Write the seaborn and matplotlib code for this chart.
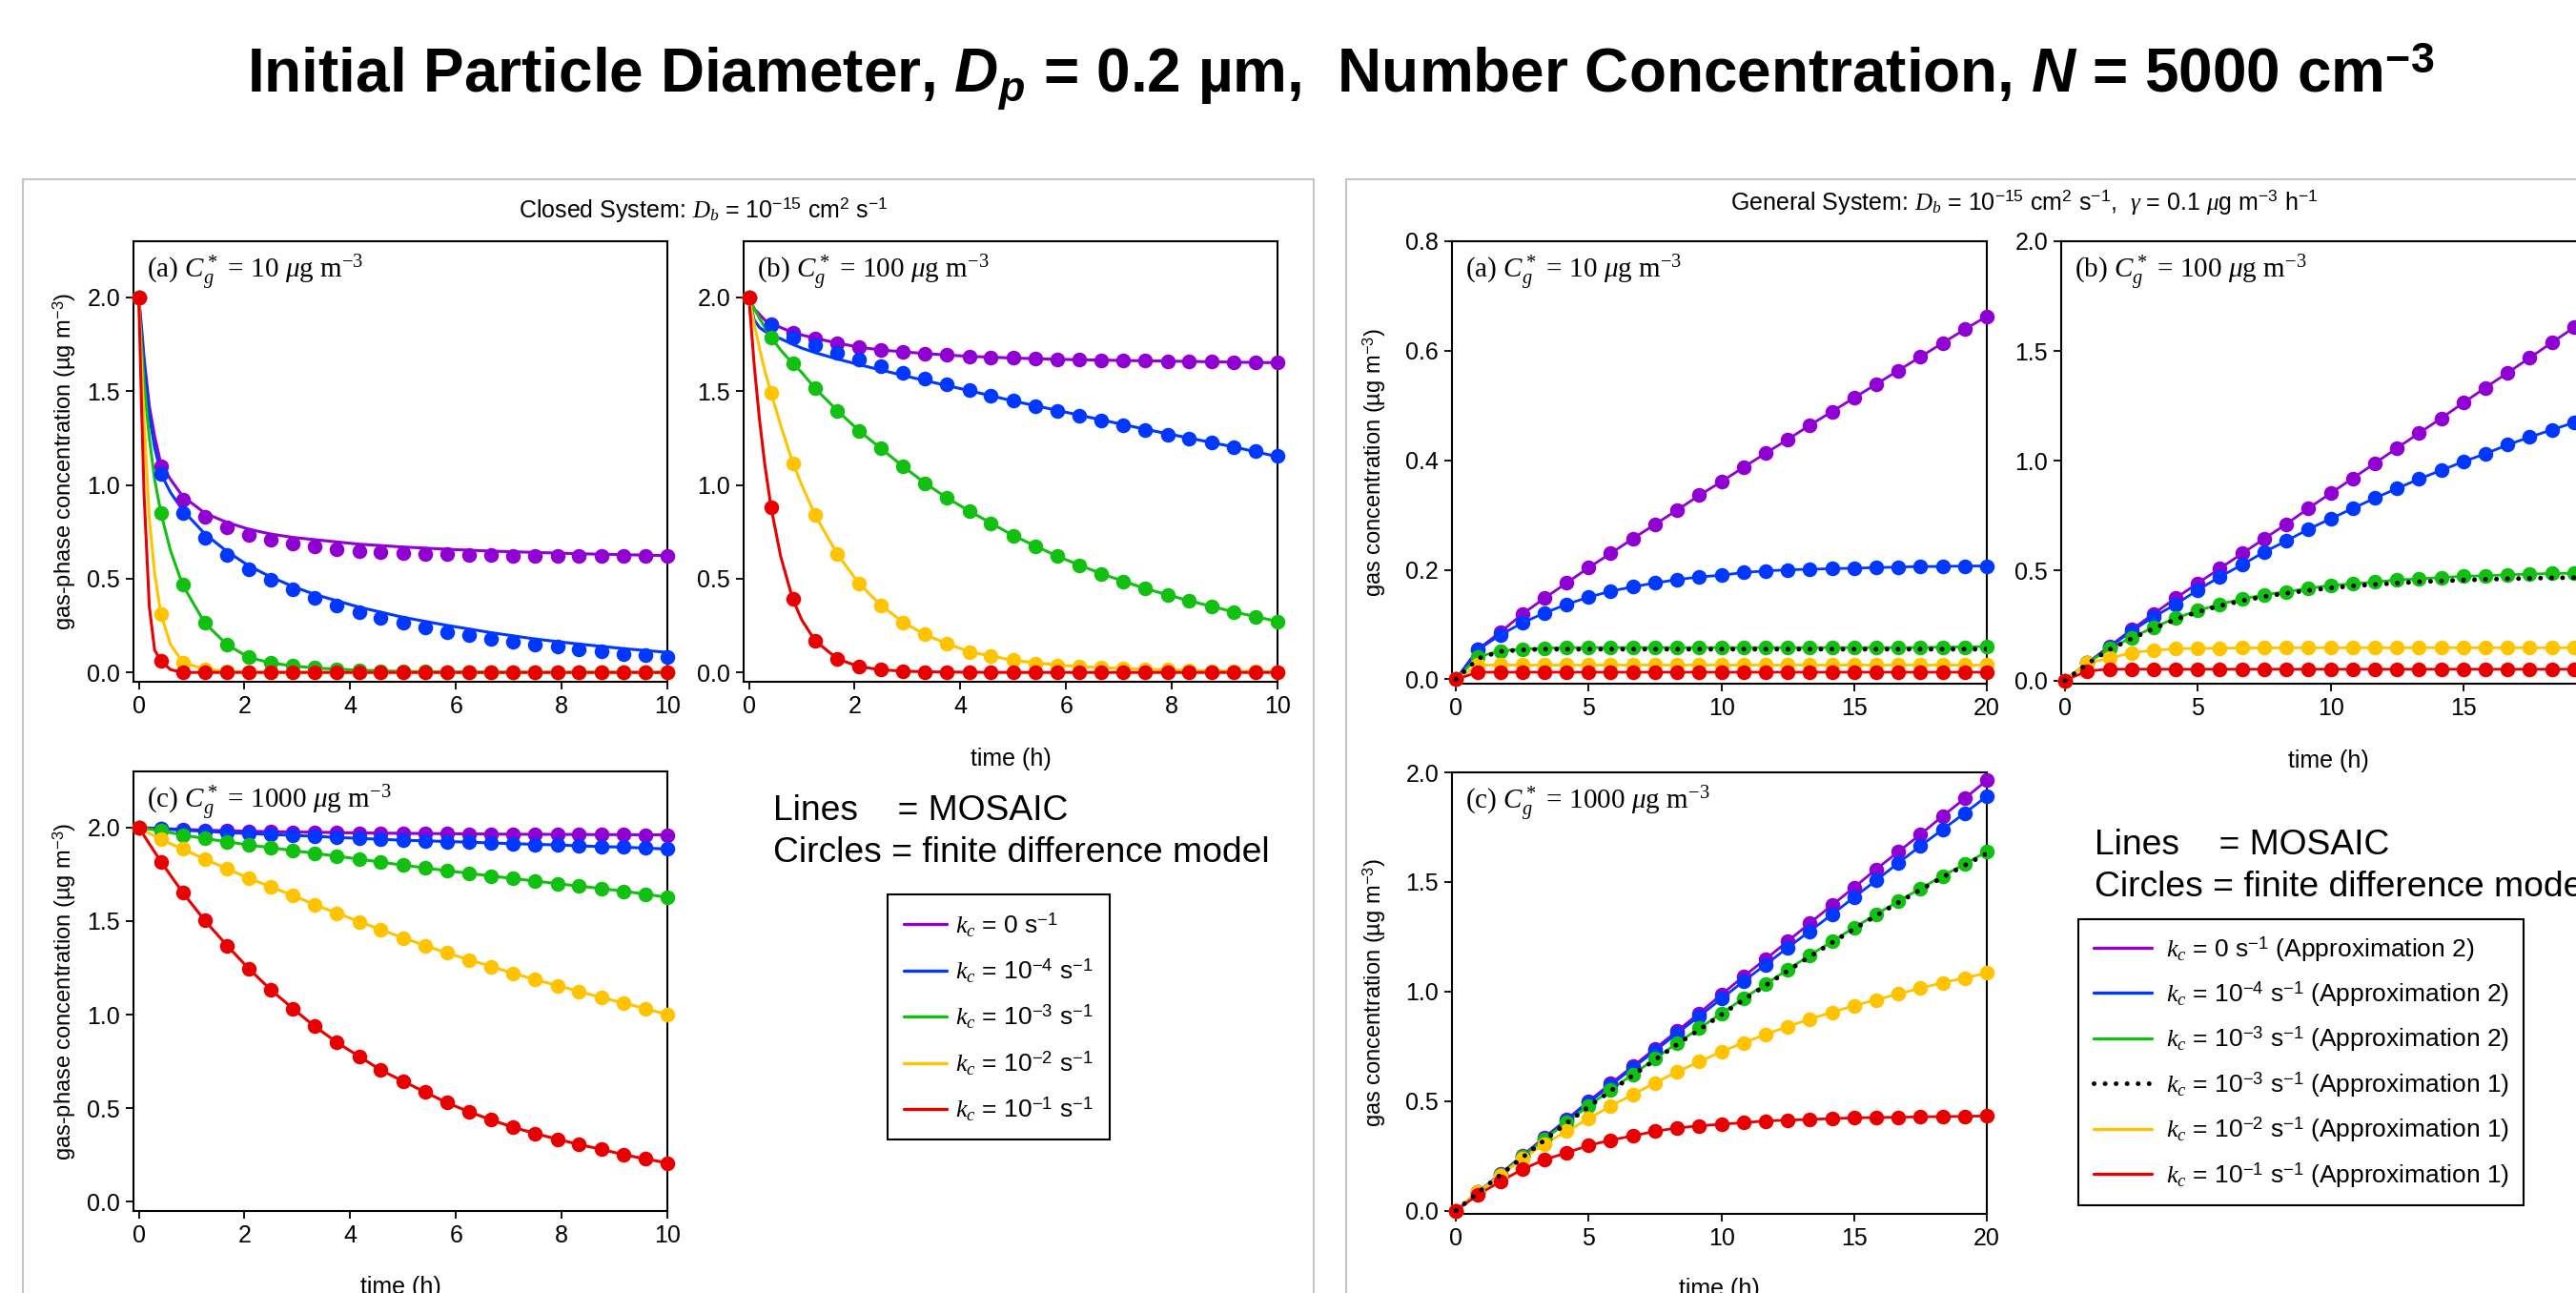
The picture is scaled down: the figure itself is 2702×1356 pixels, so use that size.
import numpy as np
import pandas as pd
import matplotlib
matplotlib.use('Agg')
import matplotlib.pyplot as plt
import seaborn as sns
from matplotlib.patches import Rectangle
from matplotlib.lines import Line2D

sns.set_theme(style='ticks')
plt.rcParams['font.family'] = ['Liberation Sans', 'DejaVu Sans']
plt.rcParams['mathtext.fontset'] = 'custom'
plt.rcParams['mathtext.rm'] = 'Liberation Serif'
plt.rcParams['mathtext.it'] = 'Liberation Serif:italic'
plt.rcParams['mathtext.bf'] = 'Liberation Sans:bold:italic'
for k in ['text.color', 'axes.labelcolor', 'xtick.color', 'ytick.color', 'axes.edgecolor']:
    plt.rcParams[k] = 'black'

W, H = 2702, 1356

# ---------------- data ----------------
series = ['k0', 'k4', 'k3', 'k2', 'k1']
colors = {'k0': '#9100d2', 'k4': '#0038ff', 'k3': '#12c012', 'k2': '#ffc300', 'k1': '#e80000'}

# circle (finite difference) times
t_closed = [0, 0.42, 0.83, 1.25, 1.67, 2.08, 2.5, 2.92, 3.33, 3.75, 4.17, 4.58, 5.0,
            5.42, 5.83, 6.25, 6.67, 7.08, 7.5, 7.92, 8.33, 8.75, 9.17, 9.58, 10.0]
t_gen = [0, 0.83, 1.67, 2.5, 3.33, 4.17, 5.0, 5.83, 6.67, 7.5, 8.33, 9.17, 10.0,
         10.83, 11.67, 12.5, 13.33, 14.17, 15.0, 15.83, 16.67, 17.5, 18.33, 19.17, 20.0]

# Closed system (a) C*=10 : circles
ca_k0 = [2.0, 1.098, 0.920, 0.829, 0.776, 0.735, 0.708, 0.688, 0.674, 0.659, 0.649, 0.642, 0.637,
         0.633, 0.630, 0.627, 0.625, 0.623, 0.621, 0.620, 0.620, 0.620, 0.620, 0.620, 0.620]
ca_k4 = [2.0, 1.061, 0.849, 0.718, 0.628, 0.552, 0.496, 0.445, 0.399, 0.357, 0.323, 0.292, 0.263,
         0.238, 0.217, 0.197, 0.178, 0.163, 0.149, 0.136, 0.122, 0.112, 0.100, 0.092, 0.081]
ca_k3 = [2.0, 0.849, 0.467, 0.263, 0.148, 0.080, 0.051, 0.034, 0.024, 0.017, 0.012, 0.008, 0.005,
         0.004, 0.003, 0.002, 0.001, 0.001, 0.0, 0.0, 0.0, 0.0, 0.0, 0.0, 0.0]
ca_k2 = [2.0, 0.311, 0.054, 0.017, 0.005, 0.002, 0.001, 0.0, 0.0, 0.0, 0.0, 0.0, 0.0,
         0.0, 0.0, 0.0, 0.0, 0.0, 0.0, 0.0, 0.0, 0.0, 0.0, 0.0, 0.0]
ca_k1 = [2.0, 0.063, 0.0, 0.0, 0.0, 0.0, 0.0, 0.0, 0.0, 0.0, 0.0, 0.0, 0.0,
         0.0, 0.0, 0.0, 0.0, 0.0, 0.0, 0.0, 0.0, 0.0, 0.0, 0.0, 0.0]
# Closed system (a) : MOSAIC lines
tl_a = [0, 0.05, 0.1, 0.2, 0.3, 0.42, 0.6, 0.83, 1.25, 1.67, 2.08, 2.5, 2.92, 3.33, 3.75, 4.17,
        5.0, 5.83, 6.67, 7.5, 8.33, 9.17, 10.0]
la_k0 = [2.0, 1.85, 1.68, 1.42, 1.26, 1.11, 1.03, 0.94, 0.85, 0.80, 0.764, 0.738, 0.720, 0.708,
         0.696, 0.684, 0.669, 0.657, 0.647, 0.640, 0.633, 0.628, 0.623]
la_k4 = [2.0, 1.82, 1.65, 1.37, 1.20, 1.06, 0.96, 0.866, 0.739, 0.645, 0.569, 0.509, 0.458, 0.416,
         0.382, 0.348, 0.294, 0.251, 0.212, 0.178, 0.151, 0.127, 0.107]
la_k3 = [2.0, 1.75, 1.55, 1.25, 1.03, 0.85, 0.65, 0.467, 0.263, 0.148, 0.080, 0.051, 0.034, 0.024,
         0.017, 0.012, 0.005, 0.003, 0.001, 0.0, 0.0, 0.0, 0.0]
la_k2 = [2.0, 1.65, 1.35, 0.82, 0.53, 0.31, 0.15, 0.054, 0.017, 0.005, 0.002, 0.001, 0.0, 0.0,
         0.0, 0.0, 0.0, 0.0, 0.0, 0.0, 0.0, 0.0, 0.0]
la_k1 = [2.0, 1.45, 0.95, 0.35, 0.12, 0.06, 0.015, 0.0, 0.0, 0.0, 0.0, 0.0, 0.0, 0.0,
         0.0, 0.0, 0.0, 0.0, 0.0, 0.0, 0.0, 0.0, 0.0]

# Closed system (b) C*=100 : circles
cb_k0 = [2.0, 1.859, 1.813, 1.783, 1.757, 1.735, 1.720, 1.710, 1.701, 1.693, 1.686, 1.681, 1.677,
         1.672, 1.670, 1.667, 1.666, 1.664, 1.662, 1.660, 1.659, 1.657, 1.655, 1.654, 1.652]
cb_k4 = [2.0, 1.851, 1.788, 1.744, 1.703, 1.667, 1.633, 1.599, 1.567, 1.537, 1.506, 1.477, 1.448,
         1.421, 1.396, 1.370, 1.345, 1.319, 1.294, 1.268, 1.248, 1.226, 1.200, 1.180, 1.154]
cb_k3 = [2.0, 1.788, 1.647, 1.516, 1.397, 1.290, 1.194, 1.098, 1.010, 0.930, 0.861, 0.793, 0.730,
         0.674, 0.620, 0.572, 0.526, 0.484, 0.447, 0.413, 0.382, 0.351, 0.323, 0.297, 0.272]
cb_k2 = [2.0, 1.489, 1.117, 0.840, 0.632, 0.475, 0.357, 0.267, 0.202, 0.153, 0.110, 0.085, 0.065,
         0.049, 0.039, 0.031, 0.025, 0.020, 0.017, 0.014, 0.010, 0.008, 0.007, 0.005, 0.003]
cb_k1 = [2.0, 0.879, 0.390, 0.170, 0.073, 0.031, 0.014, 0.007, 0.003, 0.002, 0.001, 0.0, 0.0,
         0.0, 0.0, 0.0, 0.0, 0.0, 0.0, 0.0, 0.0, 0.0, 0.0, 0.0, 0.0]
# Closed system (b) : MOSAIC lines
tl_b = [0, 0.1, 0.2, 0.3, 0.42, 0.6, 0.83, 1.0, 1.25, 1.67, 2.08, 2.5, 2.92, 3.33, 3.75, 4.17,
        5.0, 5.83, 6.67, 7.5, 8.33, 9.17, 10.0]
lb_k0 = [2.0, 1.94, 1.91, 1.88, 1.86, 1.84, 1.813, 1.80, 1.783, 1.757, 1.735, 1.720, 1.710, 1.701,
         1.693, 1.686, 1.677, 1.670, 1.666, 1.662, 1.659, 1.655, 1.652]
lb_k4 = [2.0, 1.88, 1.84, 1.82, 1.80, 1.78, 1.75, 1.73, 1.706, 1.672, 1.642, 1.613, 1.584, 1.557,
         1.530, 1.503, 1.448, 1.398, 1.347, 1.297, 1.250, 1.203, 1.151]
lb_k3 = [2.0, 1.94, 1.89, 1.84, 1.788, 1.72, 1.647, 1.60, 1.516, 1.397, 1.290, 1.194, 1.098, 1.010,
         0.930, 0.861, 0.730, 0.620, 0.526, 0.447, 0.382, 0.323, 0.272]
lb_k2 = [2.0, 1.86, 1.73, 1.61, 1.489, 1.32, 1.117, 1.00, 0.840, 0.632, 0.475, 0.357, 0.267, 0.202,
         0.153, 0.110, 0.065, 0.039, 0.025, 0.017, 0.010, 0.007, 0.003]
lb_k1 = [2.0, 1.64, 1.35, 1.11, 0.879, 0.62, 0.390, 0.28, 0.170, 0.073, 0.031, 0.014, 0.007, 0.003,
         0.002, 0.001, 0.0, 0.0, 0.0, 0.0, 0.0, 0.0, 0.0]

# Closed system (c) C*=1000 : circles (lines follow the circles)
cc_k0 = [2.0, 1.995, 1.990, 1.986, 1.983, 1.980, 1.978, 1.976, 1.975, 1.973, 1.971, 1.970, 1.969,
         1.968, 1.967, 1.966, 1.965, 1.964, 1.964, 1.963, 1.963, 1.962, 1.962, 1.961, 1.961]
cc_k4 = [2.0, 1.993, 1.986, 1.980, 1.973, 1.968, 1.963, 1.958, 1.953, 1.947, 1.942, 1.937, 1.932,
         1.929, 1.925, 1.922, 1.917, 1.914, 1.910, 1.907, 1.902, 1.898, 1.895, 1.890, 1.885]
cc_k3 = [2.0, 1.983, 1.960, 1.941, 1.924, 1.907, 1.892, 1.877, 1.862, 1.847, 1.831, 1.815, 1.799,
         1.784, 1.769, 1.755, 1.741, 1.727, 1.714, 1.700, 1.687, 1.674, 1.660, 1.644, 1.627]
cc_k2 = [2.0, 1.936, 1.885, 1.831, 1.780, 1.729, 1.683, 1.636, 1.588, 1.542, 1.497, 1.454, 1.410,
         1.369, 1.329, 1.293, 1.257, 1.221, 1.187, 1.155, 1.124, 1.091, 1.062, 1.032, 1.000]
cc_k1 = [2.0, 1.817, 1.653, 1.503, 1.369, 1.246, 1.132, 1.031, 0.937, 0.851, 0.776, 0.703, 0.644,
         0.585, 0.529, 0.480, 0.437, 0.398, 0.364, 0.334, 0.305, 0.280, 0.251, 0.229, 0.207]

# General system (a) C*=10
ga_k0 = [0, 0.055, 0.086, 0.119, 0.148, 0.176, 0.204, 0.230, 0.257, 0.283, 0.309, 0.336, 0.361,
         0.387, 0.413, 0.438, 0.464, 0.489, 0.514, 0.539, 0.564, 0.589, 0.614, 0.639, 0.663]
ga_k4 = [0, 0.054, 0.081, 0.103, 0.121, 0.137, 0.150, 0.161, 0.169, 0.176, 0.182, 0.187, 0.190,
         0.195, 0.198, 0.200, 0.201, 0.202, 0.203, 0.204, 0.205, 0.206, 0.206, 0.207, 0.207]
ga_k3 = [0, 0.041, 0.052, 0.055, 0.057, 0.058, 0.058, 0.058, 0.058, 0.058, 0.058, 0.058, 0.058,
         0.058, 0.058, 0.058, 0.058, 0.058, 0.058, 0.058, 0.058, 0.058, 0.059, 0.059, 0.060]
ga_k3a1 = [0, 0.038, 0.051, 0.054, 0.055, 0.055, 0.055, 0.055, 0.055, 0.055, 0.055, 0.055, 0.055,
           0.055, 0.055, 0.055, 0.055, 0.055, 0.055, 0.055, 0.055, 0.055, 0.055, 0.055, 0.055]
ga_k2 = [0, 0.026, 0.026, 0.026, 0.026, 0.026, 0.026, 0.026, 0.026, 0.026, 0.026, 0.026, 0.026,
         0.026, 0.026, 0.026, 0.026, 0.026, 0.026, 0.026, 0.026, 0.026, 0.026, 0.026, 0.026]
ga_k1 = [0, 0.013, 0.013, 0.013, 0.013, 0.013, 0.013, 0.013, 0.013, 0.013, 0.013, 0.013, 0.013,
         0.013, 0.013, 0.013, 0.013, 0.013, 0.013, 0.013, 0.013, 0.013, 0.013, 0.013, 0.013]

# General system (b) C*=100
gb_k0 = [0, 0.079, 0.155, 0.231, 0.303, 0.375, 0.443, 0.510, 0.578, 0.645, 0.712, 0.784, 0.852,
         0.920, 0.989, 1.058, 1.126, 1.194, 1.264, 1.333, 1.401, 1.469, 1.538, 1.607, 1.675]
gb_k4 = [0, 0.079, 0.152, 0.224, 0.289, 0.347, 0.412, 0.472, 0.527, 0.585, 0.635, 0.689, 0.736,
         0.783, 0.830, 0.874, 0.917, 0.957, 0.996, 1.032, 1.073, 1.108, 1.141, 1.174, 1.205]
gb_k3 = [0, 0.079, 0.144, 0.195, 0.241, 0.284, 0.318, 0.347, 0.371, 0.390, 0.404, 0.419, 0.433,
         0.440, 0.448, 0.458, 0.462, 0.469, 0.474, 0.477, 0.481, 0.484, 0.487, 0.488, 0.490]
gb_k3a1 = [0, 0.075, 0.140, 0.190, 0.236, 0.278, 0.312, 0.340, 0.363, 0.382, 0.397, 0.410, 0.421,
           0.430, 0.437, 0.443, 0.449, 0.453, 0.457, 0.460, 0.463, 0.465, 0.467, 0.468, 0.469]
gb_k2 = [0, 0.079, 0.101, 0.126, 0.137, 0.144, 0.146, 0.147, 0.148, 0.148, 0.149, 0.149, 0.149,
         0.149, 0.149, 0.149, 0.149, 0.149, 0.149, 0.149, 0.149, 0.149, 0.149, 0.149, 0.149]
gb_k1 = [0, 0.043, 0.051, 0.051, 0.051, 0.051, 0.051, 0.051, 0.051, 0.051, 0.051, 0.051, 0.051,
         0.051, 0.051, 0.051, 0.051, 0.051, 0.051, 0.051, 0.051, 0.051, 0.051, 0.051, 0.051]

# General system (c) C*=1000
gc_k0 = [0, 0.084, 0.167, 0.251, 0.333, 0.416, 0.499, 0.580, 0.659, 0.739, 0.819, 0.901, 0.986,
         1.068, 1.148, 1.229, 1.312, 1.394, 1.475, 1.558, 1.638, 1.717, 1.800, 1.881, 1.964]
gc_k4 = [0, 0.083, 0.164, 0.246, 0.329, 0.413, 0.493, 0.572, 0.652, 0.729, 0.809, 0.887, 0.967,
         1.046, 1.123, 1.200, 1.275, 1.352, 1.430, 1.507, 1.587, 1.664, 1.739, 1.814, 1.891]
gc_k3 = [0, 0.083, 0.164, 0.245, 0.325, 0.403, 0.478, 0.551, 0.622, 0.693, 0.764, 0.832, 0.900,
         0.968, 1.034, 1.100, 1.165, 1.229, 1.291, 1.352, 1.412, 1.470, 1.527, 1.582, 1.638]
gc_k3a1 = [0, 0.082, 0.162, 0.242, 0.321, 0.399, 0.474, 0.546, 0.617, 0.688, 0.758, 0.826, 0.894,
           0.962, 1.028, 1.094, 1.159, 1.223, 1.285, 1.346, 1.406, 1.464, 1.521, 1.576, 1.630]
gc_k2 = [0, 0.083, 0.161, 0.236, 0.303, 0.362, 0.420, 0.477, 0.530, 0.583, 0.633, 0.680, 0.725,
         0.766, 0.804, 0.840, 0.874, 0.905, 0.935, 0.962, 0.989, 1.015, 1.040, 1.062, 1.084]
gc_k1 = [0, 0.072, 0.133, 0.188, 0.232, 0.264, 0.297, 0.322, 0.341, 0.362, 0.377, 0.387, 0.394,
         0.401, 0.409, 0.413, 0.416, 0.420, 0.423, 0.425, 0.426, 0.428, 0.429, 0.430, 0.432]

legend_closed = [r'$k_c$ = 0 s$^{\mathregular{-1}}$',
                 r'$k_c$ = 10$^{\mathregular{-4}}$ s$^{\mathregular{-1}}$',
                 r'$k_c$ = 10$^{\mathregular{-3}}$ s$^{\mathregular{-1}}$',
                 r'$k_c$ = 10$^{\mathregular{-2}}$ s$^{\mathregular{-1}}$',
                 r'$k_c$ = 10$^{\mathregular{-1}}$ s$^{\mathregular{-1}}$']
legend_gen = [r'$k_c$ = 0 s$^{\mathregular{-1}}$ (Approximation 2)',
              r'$k_c$ = 10$^{\mathregular{-4}}$ s$^{\mathregular{-1}}$ (Approximation 2)',
              r'$k_c$ = 10$^{\mathregular{-3}}$ s$^{\mathregular{-1}}$ (Approximation 2)',
              r'$k_c$ = 10$^{\mathregular{-3}}$ s$^{\mathregular{-1}}$ (Approximation 1)',
              r'$k_c$ = 10$^{\mathregular{-2}}$ s$^{\mathregular{-1}}$ (Approximation 1)',
              r'$k_c$ = 10$^{\mathregular{-1}}$ s$^{\mathregular{-1}}$ (Approximation 1)']

# ---------------- figure ----------------
fig = plt.figure(figsize=(W / 100, H / 100), dpi=100)
fig.patch.set_facecolor('white')


def fx(px):
    return px / W


def fy(py):
    return 1 - py / H


def make_ax(l, t, r, b):
    return fig.add_axes([fx(l), fy(b), (r - l) / W, (b - t) / H])


def long_df(t, vals):
    rows = []
    for s, v in zip(series, vals):
        for ti, vi in zip(t, v):
            rows.append((s, ti, vi))
    return pd.DataFrame(rows, columns=['kc', 't', 'c'])


DOT = (0, (0.01, 2.3))


def draw(ax, t_circ, circ_vals, t_line, line_vals, lw, black=None):
    dl = long_df(t_line, line_vals)
    sns.lineplot(data=dl, x='t', y='c', hue='kc', palette=colors, hue_order=series,
                 ax=ax, lw=lw, legend=False, errorbar=None, sort=False, zorder=2)
    dc = long_df(t_circ, circ_vals)
    for s in series:
        sub = dc[dc.kc == s]
        sns.scatterplot(data=sub, x='t', y='c', color=colors[s], s=125, linewidth=0,
                        ax=ax, legend=False, zorder=3, clip_on=False)
    if black is not None:
        sns.lineplot(x=t_circ, y=black, ax=ax, color='black', lw=3.6, errorbar=None,
                     dashes=False, zorder=4, legend=False)
        ax.lines[-1].set_linestyle(DOT)
        ax.lines[-1].set_dash_capstyle('round')
    ax.set_xlabel('')
    ax.set_ylabel('')


def style(ax, xlim, ylim, xt, yt, title):
    ax.set_xlim(*xlim)
    ax.set_ylim(*ylim)
    ax.set_xticks(xt)
    ax.set_yticks(yt)
    ax.set_yticklabels([f'{v:.1f}' for v in yt])
    ax.set_xticklabels([f'{v:g}' for v in xt])
    ax.tick_params(direction='out', length=6, width=1.3, labelsize=18, pad=4,
                   color='black', labelcolor='black')
    for sp in ax.spines.values():
        sp.set_visible(True)
        sp.set_color('black')
        sp.set_linewidth(1.5)
    ax.text(0.025, 0.915, title, transform=ax.transAxes, fontsize=21,
            family='Liberation Serif', va='baseline', ha='left', color='black')


# closed system
axA = make_ax(140, 253, 700, 715)
draw(axA, t_closed, [ca_k0, ca_k4, ca_k3, ca_k2, ca_k1], tl_a, [la_k0, la_k4, la_k3, la_k2, la_k1], 2.2)
style(axA, (-0.1, 10), (-0.05, 2.3), [0, 2, 4, 6, 8, 10], [0.0, 0.5, 1.0, 1.5, 2.0],
      r'(a) $C_g^*$ = 10 $\mu$g m$^{-3}$')

axB = make_ax(780, 253, 1340, 715)
draw(axB, t_closed, [cb_k0, cb_k4, cb_k3, cb_k2, cb_k1], tl_b, [lb_k0, lb_k4, lb_k3, lb_k2, lb_k1], 2.2)
style(axB, (-0.1, 10), (-0.05, 2.3), [0, 2, 4, 6, 8, 10], [0.0, 0.5, 1.0, 1.5, 2.0],
      r'(b) $C_g^*$ = 100 $\mu$g m$^{-3}$')

axC = make_ax(140, 809, 700, 1270)
cc = [cc_k0, cc_k4, cc_k3, cc_k2, cc_k1]
draw(axC, t_closed, cc, t_closed, cc, 2.2)
style(axC, (-0.1, 10), (-0.05, 2.3), [0, 2, 4, 6, 8, 10], [0.0, 0.5, 1.0, 1.5, 2.0],
      r'(c) $C_g^*$ = 1000 $\mu$g m$^{-3}$')

# general system
gA = make_ax(1523, 253, 2084, 717)
ga = [ga_k0, ga_k4, ga_k3, ga_k2, ga_k1]
draw(gA, t_gen, ga, t_gen, ga, 2.0, black=ga_k3a1)
style(gA, (-0.15, 20), (-0.008, 0.8), [0, 5, 10, 15, 20], [0.0, 0.2, 0.4, 0.6, 0.8],
      r'(a) $C_g^*$ = 10 $\mu$g m$^{-3}$')

gB = make_ax(2162, 253, 2723, 717)
gb = [gb_k0, gb_k4, gb_k3, gb_k2, gb_k1]
draw(gB, t_gen, gb, t_gen, gb, 2.0, black=gb_k3a1)
style(gB, (-0.15, 20), (-0.015, 2.0), [0, 5, 10, 15, 20], [0.0, 0.5, 1.0, 1.5, 2.0],
      r'(b) $C_g^*$ = 100 $\mu$g m$^{-3}$')

gC = make_ax(1523, 810, 2084, 1273)
gc = [gc_k0, gc_k4, gc_k3, gc_k2, gc_k1]
draw(gC, t_gen, gc, t_gen, gc, 2.0, black=gc_k3a1)
style(gC, (-0.15, 20), (-0.015, 2.0), [0, 5, 10, 15, 20], [0.0, 0.5, 1.0, 1.5, 2.0],
      r'(c) $C_g^*$ = 1000 $\mu$g m$^{-3}$')

# group frames
fig.add_artist(Rectangle((fx(24), fy(1400)), (1378 - 24) / W, (1400 - 188) / H,
                         transform=fig.transFigure, fill=False, ec='#c4c4c4', lw=1.5))
fig.add_artist(Rectangle((fx(1412), fy(1400)), (2800 - 1412) / W, (1400 - 188) / H,
                         transform=fig.transFigure, fill=False, ec='#c4c4c4', lw=1.5))

# titles
fig.text(fx(1406), fy(97),
         r'Initial Particle Diameter, $\mathbf{D_p}$ = 0.2 µm,  Number Concentration, $\mathbf{N}$ = 5000 cm$^{\mathregular{-3}}$',
         fontsize=46, fontweight='bold', ha='center', va='baseline', color='black')
fig.text(fx(738), fy(228),
         r'Closed System: $D_b$ = 10$^{\mathregular{-15}}$ cm$^{\mathregular{2}}$ s$^{\mathregular{-1}}$',
         fontsize=18, ha='center', va='baseline')
fig.text(fx(2123), fy(220),
         r'General System: $D_b$ = 10$^{\mathregular{-15}}$ cm$^{\mathregular{2}}$ s$^{\mathregular{-1}}$,  $\gamma$ = 0.1 $\mu$g m$^{\mathregular{-3}}$ h$^{\mathregular{-1}}$',
         fontsize=18, ha='center', va='baseline')

# axis labels
ylab_c = r'gas-phase concentration (µg m$^{\mathregular{-3}}$)'
ylab_g = r'gas concentration (µg m$^{\mathregular{-3}}$)'
fig.text(fx(68), fy(484), ylab_c, rotation=90, fontsize=17, ha='center', va='center')
fig.text(fx(68), fy(1040), ylab_c, rotation=90, fontsize=17, ha='center', va='center')
fig.text(fx(1442), fy(485), ylab_g, rotation=90, fontsize=17, ha='center', va='center')
fig.text(fx(1442), fy(1041), ylab_g, rotation=90, fontsize=17, ha='center', va='center')
fig.text(fx(1060), fy(796), 'time (h)', fontsize=18, ha='center', va='center')
fig.text(fx(420), fy(1350), 'time (h)', fontsize=18, ha='center', va='center')
fig.text(fx(2442), fy(798), 'time (h)', fontsize=18, ha='center', va='center')
fig.text(fx(1803), fy(1352), 'time (h)', fontsize=18, ha='center', va='center')

# notes
for x0, y0 in [(811, 850), (2197, 886)]:
    fig.text(fx(x0), fy(y0), 'Lines    = MOSAIC', fontsize=26.8, ha='left', va='center')
    fig.text(fx(x0), fy(y0 + 45), 'Circles = finite difference model', fontsize=26.8,
             ha='left', va='center')

# legends
h_closed = [Line2D([], [], color=colors[s], lw=2.4) for s in series]
leg1 = fig.legend(h_closed, legend_closed, loc='upper left', bbox_to_anchor=(fx(931), fy(938)),
                  borderaxespad=0, fontsize=19, frameon=True, fancybox=False,
                  edgecolor='black', framealpha=1, handlelength=1.7, handletextpad=0.35,
                  borderpad=0.65, labelspacing=0.72)
leg1.get_frame().set_linewidth(1.5)

h_gen = [Line2D([], [], color=colors['k0'], lw=2.4),
         Line2D([], [], color=colors['k4'], lw=2.4),
         Line2D([], [], color=colors['k3'], lw=2.4),
         Line2D([], [], color='black', lw=3.6, linestyle=DOT, dash_capstyle='round'),
         Line2D([], [], color=colors['k2'], lw=2.4),
         Line2D([], [], color=colors['k1'], lw=2.4)]
leg2 = fig.legend(h_gen, legend_gen, loc='upper left', bbox_to_anchor=(fx(2180), fy(964)),
                  borderaxespad=0, fontsize=19, frameon=True, fancybox=False,
                  edgecolor='black', framealpha=1, handlelength=2.3, handletextpad=0.57,
                  borderpad=0.6, labelspacing=0.63)
leg2.get_frame().set_linewidth(1.5)

fig.savefig('out.png', dpi=100)
